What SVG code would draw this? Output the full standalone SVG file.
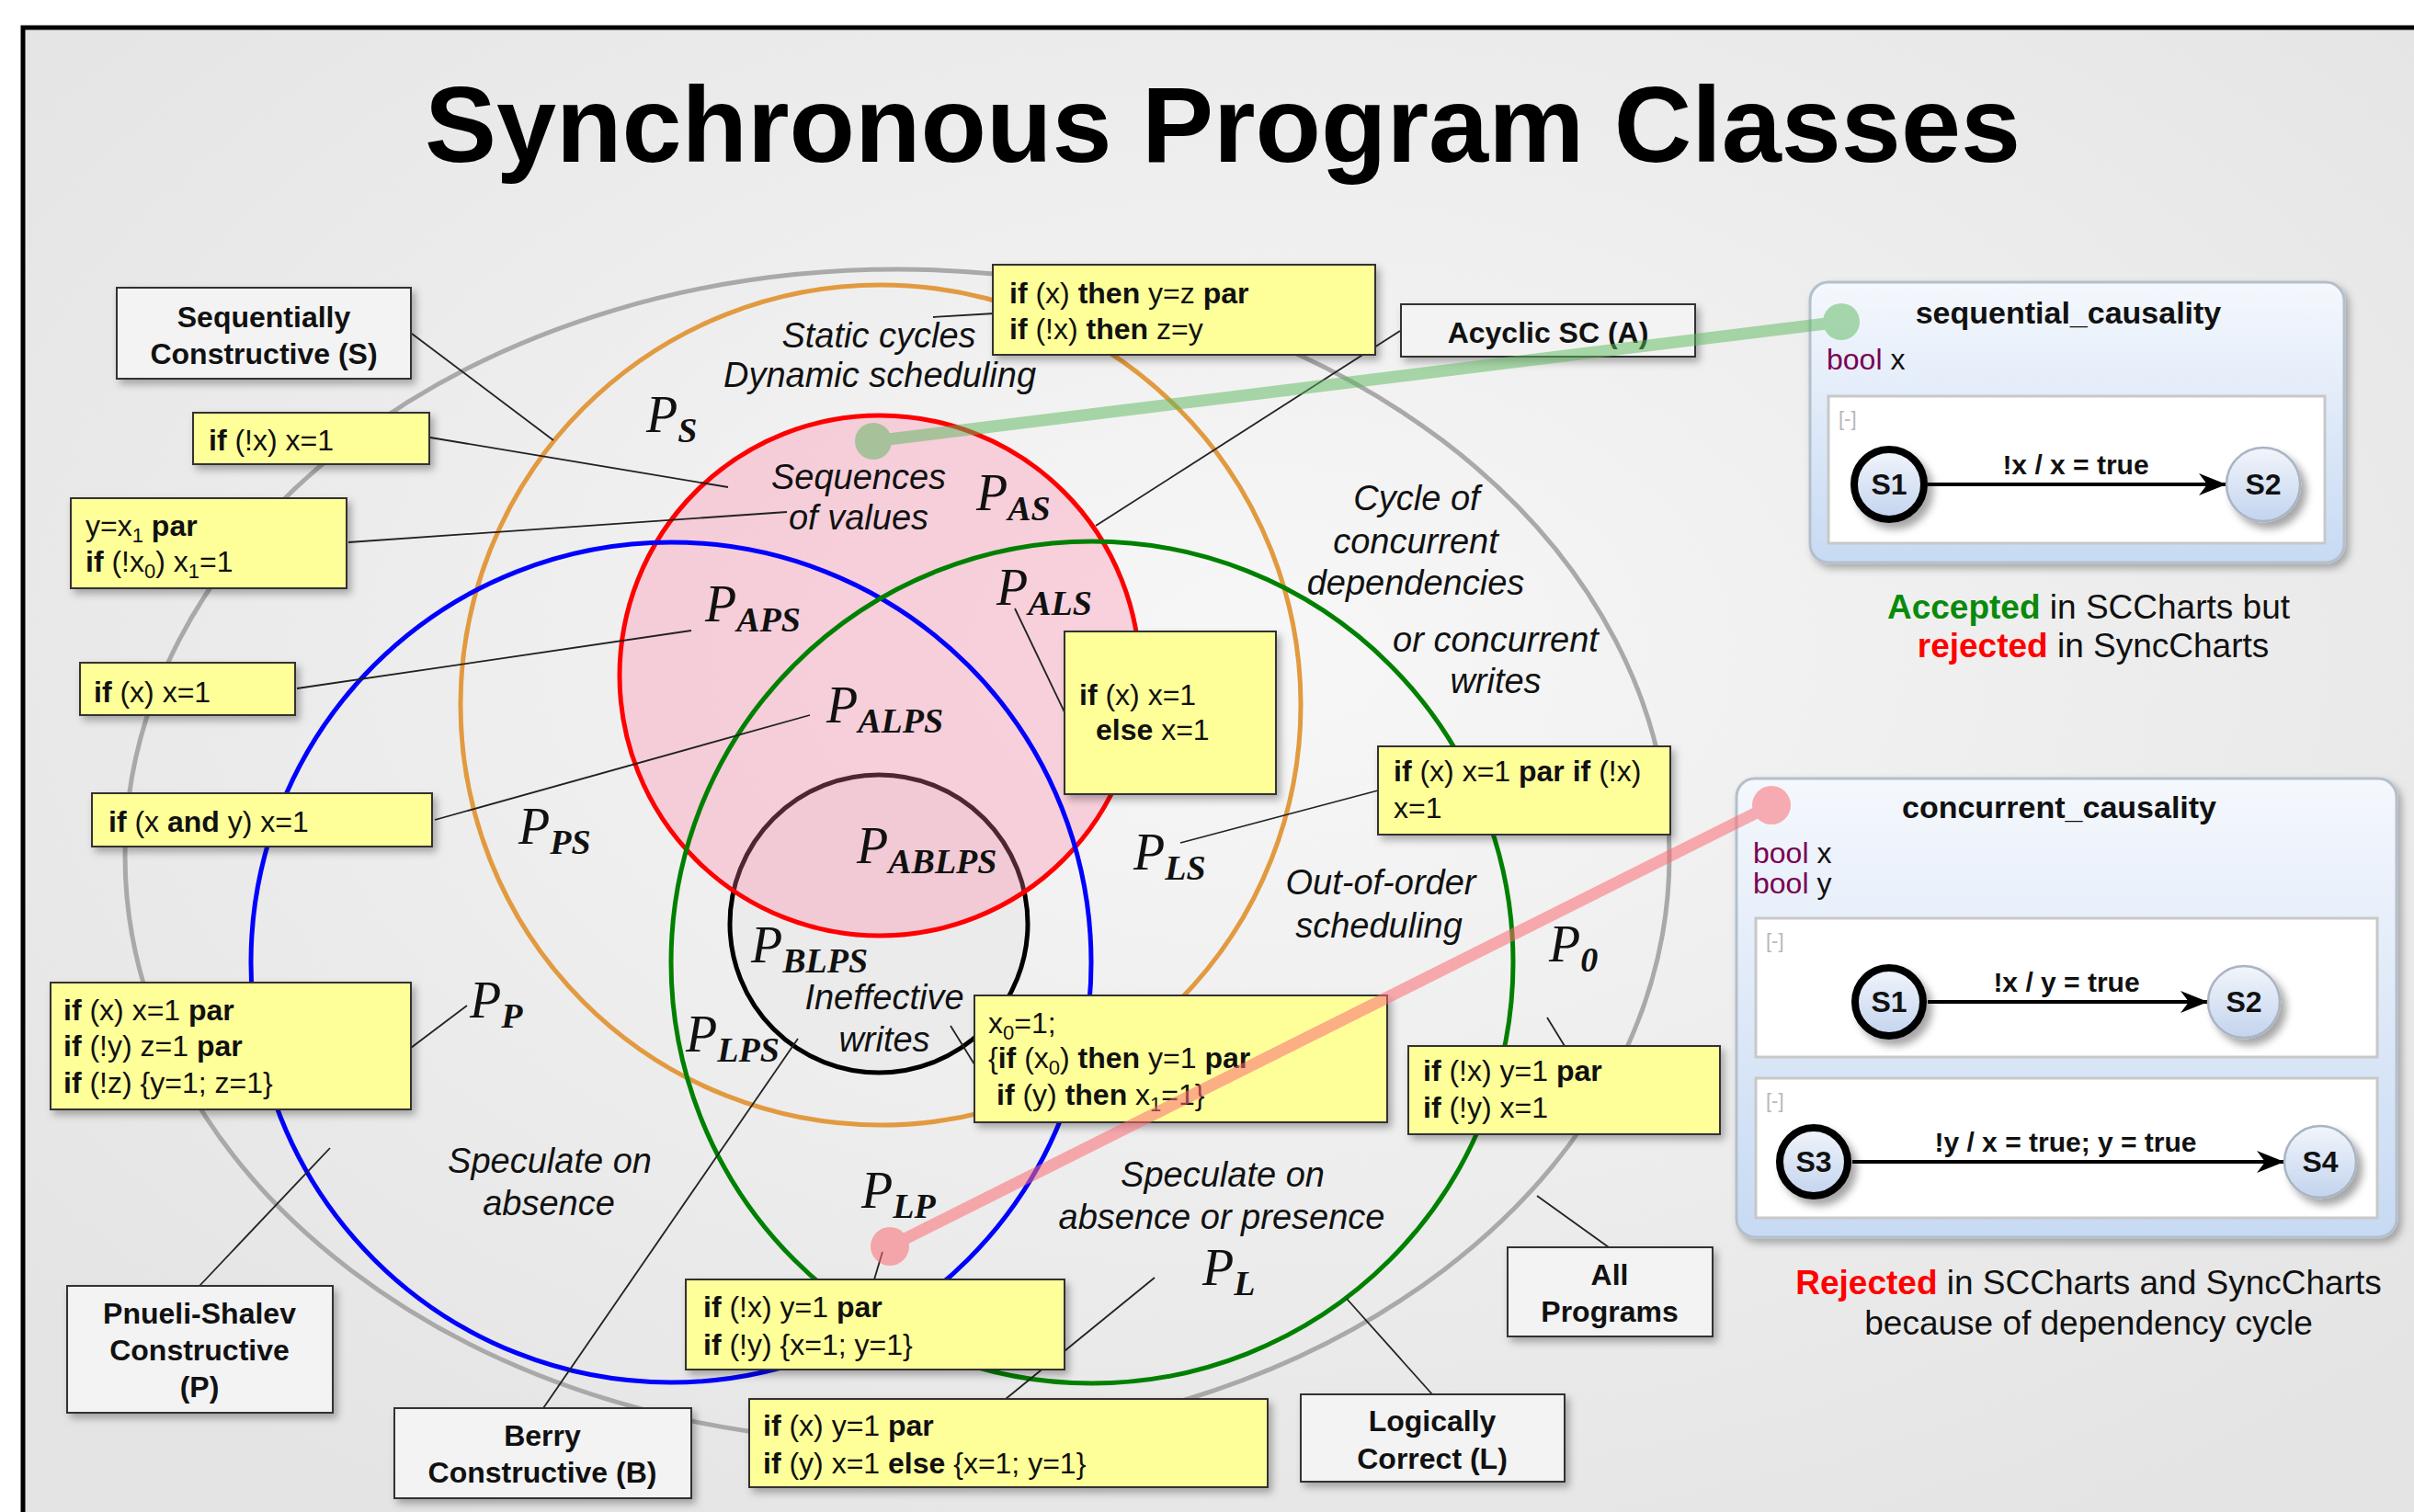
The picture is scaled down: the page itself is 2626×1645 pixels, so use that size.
<svg xmlns="http://www.w3.org/2000/svg" width="2626" height="1645" viewBox="0 0 2626 1645">
<defs>
<radialGradient id="bg" cx="50%" cy="40%" r="65%">
<stop offset="0" stop-color="#f7f7f7"/>
<stop offset="1" stop-color="#e4e4e4"/>
</radialGradient>
<linearGradient id="panel" x1="0" y1="0" x2="0" y2="1">
<stop offset="0" stop-color="#f5f8fd"/>
<stop offset="1" stop-color="#c7daf3"/>
</linearGradient>
<linearGradient id="state" x1="0" y1="0" x2="0" y2="1">
<stop offset="0" stop-color="#f2f5fb"/>
<stop offset="1" stop-color="#c3d4ee"/>
</linearGradient>
<filter id="sh" x="-10%" y="-10%" width="130%" height="140%">
<feDropShadow dx="4" dy="5" stdDeviation="4" flood-color="#000" flood-opacity="0.3"/>
</filter>
<filter id="shs" x="-30%" y="-30%" width="170%" height="170%">
<feDropShadow dx="6" dy="7" stdDeviation="4" flood-color="#000" flood-opacity="0.35"/>
</filter>
<marker id="arr" viewBox="0 0 30 24" refX="29" refY="12" markerWidth="30" markerHeight="24" markerUnits="userSpaceOnUse" orient="auto">
<path d="M0,0 L30,12 L0,24 L9,12 z" fill="#000"/>
</marker>
<style>
.code{font-family:"Liberation Sans",Arial,sans-serif;font-size:32px;fill:#111}
.kw{font-weight:bold}
.sb{font-size:22px}
.yb{fill:#ffff99;stroke:#333;stroke-width:2;filter:url(#sh)}
.gb{fill:#f3f3f3;stroke:#333;stroke-width:2;filter:url(#sh)}
.lbl{font-family:"Liberation Sans",Arial,sans-serif;font-size:32px;font-weight:bold;text-anchor:middle;fill:#111}
.it{font-family:"Liberation Sans",Arial,sans-serif;font-style:italic;font-size:38px;text-anchor:middle;fill:#111}
.pl{font-family:"Liberation Serif","Times New Roman",serif;font-style:italic;font-size:56px;fill:#111}
.ps{font-weight:bold;font-size:38px}
.lead{stroke:#222;stroke-width:1.8;fill:none}
.ring{fill:none;stroke-width:5}
.pan{fill:url(#panel);stroke:#b4bfcc;stroke-width:3;filter:url(#sh)}
.reg{fill:#fff;stroke:#c8c8c8;stroke-width:3}
.st{fill:url(#state);filter:url(#shs)}
.stx{font-family:"Liberation Sans",Arial,sans-serif;font-size:32px;font-weight:bold;text-anchor:middle;fill:#111}
.tr{font-family:"Liberation Sans",Arial,sans-serif;font-size:30px;font-weight:bold;text-anchor:middle;fill:#111}
.ttl{font-family:"Liberation Sans",Arial,sans-serif;font-size:34px;font-weight:bold;text-anchor:middle;fill:#111}
.dcl{font-family:"Liberation Sans",Arial,sans-serif;font-size:32px;fill:#111}
.bool{fill:#7a0050}
.mn{font-family:"Liberation Sans",Arial,sans-serif;font-size:22px;fill:#b8b8b8}
.note{font-family:"Liberation Sans",Arial,sans-serif;font-size:37px;text-anchor:middle;fill:#111}
</style>
</defs>

<rect x="0" y="0" width="2626" height="1645" fill="#fff"/>
<rect x="25" y="30" width="2700" height="1700" fill="url(#bg)" stroke="#000" stroke-width="5"/>

<text x="1330" y="176" font-family="Liberation Sans, Arial, sans-serif" font-size="117" font-weight="bold" text-anchor="middle" fill="#000">Synchronous Program Classes</text>

<g id="regions">
<g id="region-all"><ellipse cx="976" cy="931" rx="840" ry="638" class="ring" stroke="#a9a9a9" stroke-width="4.5"/></g>
<g id="region-S"><circle cx="958" cy="767" r="457" class="ring" stroke="#e29a40"/></g>
<g id="region-B"><circle cx="956" cy="1005" r="162" fill="#ebebeb" stroke="#000" stroke-width="5"/></g>
<g id="region-A"><circle cx="957" cy="735" r="283" fill="#ff7fa6" fill-opacity="0.3" stroke="none"/><circle cx="957" cy="735" r="283" class="ring" stroke="#ff0000"/></g>
<g id="region-P"><circle cx="730" cy="1047" r="457" class="ring" stroke="#0000ff"/></g>
<g id="region-L"><circle cx="1188" cy="1047" r="458" class="ring" stroke="#008000"/></g>
</g>

<g id="region-labels">
<text class="pl" x="703" y="470">P<tspan class="ps" dy="11">S</tspan></text>
<text class="pl" x="1062" y="555">P<tspan class="ps" dy="11">AS</tspan></text>
<text class="pl" x="767" y="676">P<tspan class="ps" dy="11">APS</tspan></text>
<text class="pl" x="1084" y="658">P<tspan class="ps" dy="11">ALS</tspan></text>
<text class="pl" x="899" y="786">P<tspan class="ps" dy="11">ALPS</tspan></text>
<text class="pl" x="932" y="939">P<tspan class="ps" dy="11">ABLPS</tspan></text>
<text class="pl" x="817" y="1047">P<tspan class="ps" dy="11">BLPS</tspan></text>
<text class="pl" x="746" y="1144">P<tspan class="ps" dy="11">LPS</tspan></text>
<text class="pl" x="1233" y="946">P<tspan class="ps" dy="11">LS</tspan></text>
<text class="pl" x="564" y="918">P<tspan class="ps" dy="11">PS</tspan></text>
<text class="pl" x="511" y="1107">P<tspan class="ps" dy="11">P</tspan></text>
<text class="pl" x="937" y="1314">P<tspan class="ps" dy="11">LP</tspan></text>
<text class="pl" x="1308" y="1398">P<tspan class="ps" dy="11">L</tspan></text>
<text class="pl" x="1685" y="1046">P<tspan class="ps" dy="11">0</tspan></text>

<text class="it" x="956" y="378">Static cycles</text>
<text class="it" x="957" y="421">Dynamic scheduling</text>
<text class="it" x="934" y="532">Sequences</text>
<text class="it" x="934" y="576">of values</text>
<text class="it" x="1541" y="555">Cycle of</text>
<text class="it" x="1540" y="602">concurrent</text>
<text class="it" x="1540" y="647">dependencies</text>
<text class="it" x="1627" y="709">or concurrent</text>
<text class="it" x="1627" y="754">writes</text>
<text class="it" x="1502" y="973">Out-of-order</text>
<text class="it" x="1500" y="1020">scheduling</text>
<text class="it" x="962" y="1098">Ineffective</text>
<text class="it" x="962" y="1144">writes</text>
<text class="it" x="598" y="1276">Speculate on</text>
<text class="it" x="597" y="1322">absence</text>
<text class="it" x="1330" y="1291">Speculate on</text>
<text class="it" x="1329" y="1337">absence or presence</text>
</g>

<g id="connectors">
<line class="lead" x1="448" y1="363" x2="602" y2="479"/>
<line class="lead" x1="468" y1="476" x2="792" y2="530"/>
<line class="lead" x1="379" y1="590" x2="856" y2="557"/>
<line class="lead" x1="323" y1="749" x2="752" y2="686"/>
<line class="lead" x1="473" y1="892" x2="881" y2="778"/>
<line class="lead" x1="1082" y1="341" x2="1015" y2="345"/>
<line class="lead" x1="1523" y1="360" x2="1192" y2="572"/>
<line class="lead" x1="1104" y1="662" x2="1160" y2="779"/>
<line class="lead" x1="1499" y1="860" x2="1284" y2="917"/>
<line class="lead" x1="1034" y1="1116" x2="1060" y2="1158"/>
<line class="lead" x1="1683" y1="1107" x2="1702" y2="1138"/>
<line class="lead" x1="508" y1="1094" x2="447" y2="1140"/>
<line class="lead" x1="217" y1="1399" x2="359" y2="1249"/>
<line class="lead" x1="591" y1="1532" x2="868" y2="1130"/>
<line class="lead" x1="951" y1="1392" x2="960" y2="1362"/>
<line class="lead" x1="1094" y1="1522" x2="1256" y2="1390"/>
<line class="lead" x1="1558" y1="1517" x2="1465" y2="1413"/>
<line class="lead" x1="1750" y1="1357" x2="1672" y2="1301"/>
</g>

<g id="box-s-label"><rect class="gb" x="127" y="313" width="320" height="99"/><text class="lbl" x="287" y="356">Sequentially</text><text class="lbl" x="287" y="396">Constructive (S)</text></g>
<g id="box-a-label"><rect class="gb" x="1524" y="331" width="320" height="57"/><text class="lbl" x="1684" y="373">Acyclic SC (A)</text></g>
<g id="box-p-label"><rect class="gb" x="73" y="1399" width="289" height="138"/><text class="lbl" x="217" y="1440">Pnueli-Shalev</text><text class="lbl" x="217" y="1480">Constructive</text><text class="lbl" x="217" y="1520">(P)</text></g>
<g id="box-b-label"><rect class="gb" x="429" y="1532" width="323" height="98"/><text class="lbl" x="590" y="1573">Berry</text><text class="lbl" x="590" y="1613">Constructive (B)</text></g>
<g id="box-l-label"><rect class="gb" x="1415" y="1517" width="287" height="95"/><text class="lbl" x="1558" y="1557">Logically</text><text class="lbl" x="1558" y="1598">Correct (L)</text></g>
<g id="box-all-label"><rect class="gb" x="1640" y="1357" width="223" height="97"/><text class="lbl" x="1751" y="1398">All</text><text class="lbl" x="1751" y="1438">Programs</text></g>

<g id="ex1"><rect class="yb" x="210" y="449" width="257" height="56"/><text class="code" x="227" y="490"><tspan class="kw">if</tspan> (!x) x=1</text></g>
<g id="ex2"><rect class="yb" x="77" y="542" width="300" height="98"/>
<text class="code" x="93" y="583">y=x<tspan class="sb" dy="7">1</tspan><tspan class="kw" dy="-7"> par</tspan></text>
<text class="code" x="93" y="622"><tspan class="kw">if</tspan> (!x<tspan class="sb" dy="7">0</tspan><tspan dy="-7">) x</tspan><tspan class="sb" dy="7">1</tspan><tspan dy="-7">=1</tspan></text></g>
<g id="ex3"><rect class="yb" x="87" y="721" width="234" height="57"/><text class="code" x="102" y="764"><tspan class="kw">if</tspan> (x) x=1</text></g>
<g id="ex4"><rect class="yb" x="100" y="863" width="370" height="58"/><text class="code" x="118" y="905"><tspan class="kw">if</tspan> (x <tspan class="kw">and</tspan> y) x=1</text></g>
<g id="ex5"><rect class="yb" x="1080" y="288" width="416" height="98"/>
<text class="code" x="1098" y="330"><tspan class="kw">if</tspan> (x) <tspan class="kw">then</tspan> y=z <tspan class="kw">par</tspan></text>
<text class="code" x="1098" y="369"><tspan class="kw">if</tspan> (!x) <tspan class="kw">then</tspan> z=y</text></g>
<g id="ex6"><rect class="yb" x="1158" y="687" width="230" height="177"/>
<text class="code" x="1174" y="767"><tspan class="kw">if</tspan> (x) x=1</text>
<text class="code" x="1192" y="805"><tspan class="kw">else</tspan> x=1</text></g>
<g id="ex7"><rect class="yb" x="1499" y="812" width="318" height="96"/>
<text class="code" x="1516" y="850"><tspan class="kw">if</tspan> (x) x=1 <tspan class="kw">par</tspan> <tspan class="kw">if</tspan> (!x)</text>
<text class="code" x="1516" y="890">x=1</text></g>
<g id="ex8"><rect class="yb" x="1060" y="1083" width="449" height="138"/>
<text class="code" x="1075" y="1124">x<tspan class="sb" dy="7">0</tspan><tspan dy="-7">=1;</tspan></text>
<text class="code" x="1075" y="1162">{<tspan class="kw">if</tspan> (x<tspan class="sb" dy="7">0</tspan><tspan dy="-7">) </tspan><tspan class="kw">then</tspan> y=1 <tspan class="kw">par</tspan></text>
<text class="code" x="1084" y="1202"><tspan class="kw">if</tspan> (y) <tspan class="kw">then</tspan> x<tspan class="sb" dy="7">1</tspan><tspan dy="-7">=1}</tspan></text></g>
<g id="ex9"><rect class="yb" x="1532" y="1138" width="339" height="96"/>
<text class="code" x="1548" y="1176"><tspan class="kw">if</tspan> (!x) y=1 <tspan class="kw">par</tspan></text>
<text class="code" x="1548" y="1216"><tspan class="kw">if</tspan> (!y) x=1</text></g>
<g id="ex10"><rect class="yb" x="55" y="1069" width="392" height="138"/>
<text class="code" x="69" y="1110"><tspan class="kw">if</tspan> (x) x=1 <tspan class="kw">par</tspan></text>
<text class="code" x="69" y="1149"><tspan class="kw">if</tspan> (!y) z=1 <tspan class="kw">par</tspan></text>
<text class="code" x="69" y="1189"><tspan class="kw">if</tspan> (!z) {y=1; z=1}</text></g>
<g id="ex11"><rect class="yb" x="746" y="1392" width="412" height="98"/>
<text class="code" x="765" y="1433"><tspan class="kw">if</tspan> (!x) y=1 <tspan class="kw">par</tspan></text>
<text class="code" x="765" y="1474"><tspan class="kw">if</tspan> (!y) {x=1; y=1}</text></g>
<g id="ex12"><rect class="yb" x="815" y="1522" width="564" height="96"/>
<text class="code" x="830" y="1562"><tspan class="kw">if</tspan> (x) y=1 <tspan class="kw">par</tspan></text>
<text class="code" x="830" y="1603"><tspan class="kw">if</tspan> (y) x=1 <tspan class="kw">else</tspan> {x=1; y=1}</text></g>

<g id="chart-sequential">
<rect class="pan" x="1969" y="307" width="581" height="305" rx="20"/>
<text class="ttl" x="2250" y="352">sequential_causality</text>
<text class="dcl" x="1987" y="402"><tspan class="bool">bool</tspan> x</text>
<rect class="reg" x="1989" y="431" width="540" height="160"/>
<text class="mn" x="2000" y="463">[-]</text>
<line x1="2097" y1="527" x2="2421" y2="527" stroke="#000" stroke-width="4" marker-end="url(#arr)"/>
<text class="tr" x="2258" y="516">!x / x = true</text>
<circle class="st" cx="2055" cy="527" r="38" stroke="#000" stroke-width="8"/>
<text class="stx" x="2055" y="538">S1</text>
<circle class="st" cx="2462" cy="527" r="40" stroke="#aab4c2" stroke-width="2.5"/>
<text class="stx" x="2462" y="538">S2</text>
</g>
<g id="note-sequential">
<text class="note" x="2272" y="673"><tspan font-weight="bold" fill="#0a8a0a">Accepted</tspan> in SCCharts but</text>
<text class="note" x="2277" y="715"><tspan font-weight="bold" fill="#ff0000">rejected</tspan> in SyncCharts</text>
</g>

<g id="chart-concurrent">
<rect class="pan" x="1889" y="847" width="718" height="499" rx="20"/>
<text class="ttl" x="2240" y="890">concurrent_causality</text>
<text class="dcl" x="1907" y="939"><tspan class="bool">bool</tspan> x</text>
<text class="dcl" x="1907" y="972"><tspan class="bool">bool</tspan> y</text>
<rect class="reg" x="1910" y="999" width="676" height="151"/>
<text class="mn" x="1921" y="1031">[-]</text>
<line x1="2097" y1="1090" x2="2401" y2="1090" stroke="#000" stroke-width="4" marker-end="url(#arr)"/>
<text class="tr" x="2248" y="1079">!x / y = true</text>
<circle class="st" cx="2055" cy="1090" r="37" stroke="#000" stroke-width="8"/>
<text class="stx" x="2055" y="1101">S1</text>
<circle class="st" cx="2441" cy="1090" r="39" stroke="#aab4c2" stroke-width="2.5"/>
<text class="stx" x="2441" y="1101">S2</text>
<rect class="reg" x="1910" y="1173" width="676" height="152"/>
<text class="mn" x="1921" y="1205">[-]</text>
<line x1="2015" y1="1264" x2="2484" y2="1264" stroke="#000" stroke-width="4" marker-end="url(#arr)"/>
<text class="tr" x="2247" y="1253">!y / x = true; y = true</text>
<circle class="st" cx="1973" cy="1264" r="37" stroke="#000" stroke-width="8"/>
<text class="stx" x="1973" y="1275">S3</text>
<circle class="st" cx="2524" cy="1264" r="39" stroke="#aab4c2" stroke-width="2.5"/>
<text class="stx" x="2524" y="1275">S4</text>
</g>
<g id="note-concurrent">
<text class="note" x="2272" y="1408"><tspan font-weight="bold" fill="#ff0000">Rejected</tspan> in SCCharts and SyncCharts</text>
<text class="note" x="2272" y="1452">because of dependency cycle</text>
</g>

<g id="example-links">
<g opacity="0.5"><line x1="950" y1="480" x2="2003" y2="350" stroke="#5cb85c" stroke-width="13"/><circle cx="950" cy="480" r="20" fill="#5cb85c"/><circle cx="2003" cy="350" r="20" fill="#5cb85c"/></g>
<g opacity="0.55"><line x1="968" y1="1356" x2="1927" y2="876" stroke="#fb6d74" stroke-width="13"/><circle cx="968" cy="1356" r="21" fill="#fb6d74"/><circle cx="1927" cy="876" r="21" fill="#fb6d74"/></g>
</g>
</svg>
